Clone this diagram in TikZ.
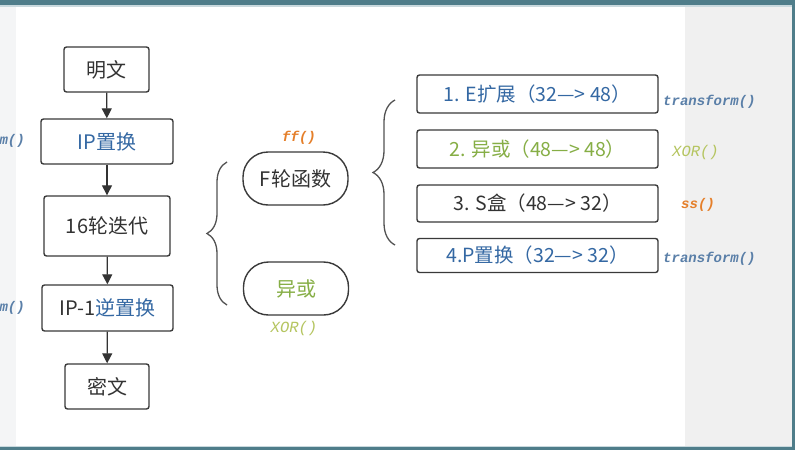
\documentclass[tikz,border=0pt]{standalone}
\usepackage{fontspec}
\setmainfont{Noto Sans CJK SC}
\newfontfamily\monof{Liberation Mono}
\usetikzlibrary{arrows.meta,decorations.pathreplacing}
\definecolor{bandc}{HTML}{4F7D8A}
\definecolor{bandl}{HTML}{C9D9DE}
\definecolor{leftg}{HTML}{F4F5F6}
\definecolor{rightg}{HTML}{F0F0F0}
\definecolor{boxc}{HTML}{3A3A3A}
\definecolor{darkc}{HTML}{333333}
\definecolor{bluec}{HTML}{3468A3}
\definecolor{lblue}{HTML}{5A7FA8}
\definecolor{greenc}{HTML}{86AE45}
\definecolor{xorc}{HTML}{B5C560}
\definecolor{orangec}{HTML}{E57F2A}
\begin{document}
\begin{tikzpicture}[x=1pt,y=-1pt,
  box/.style={draw=boxc,line width=1.4pt,rounded corners=2.5pt,inner sep=0pt,
    text=darkc,font=\fontsize{20}{22}\selectfont},
  pill/.style={draw=boxc,line width=1.4pt,rounded corners=25pt,inner sep=0pt,
    minimum width=105pt,minimum height=53pt,text=darkc,font=\fontsize{20}{22}\selectfont},
  stepbox/.style={draw=boxc,line width=1.4pt,rounded corners=2.5pt,inner sep=0pt,
    minimum width=241pt,text=darkc,font=\fontsize{19.5}{22}\selectfont},
  tlabel/.style={inner sep=0pt,text=lblue,font=\monof\bfseries\itshape\fontsize{14}{14}\selectfont},
  xlabel/.style={inner sep=0pt,text=xorc,font=\monof\itshape\fontsize{15.5}{16}\selectfont},
  olabel/.style={inner sep=0pt,text=orangec,font=\monof\bfseries\itshape\fontsize{14}{14}\selectfont},
  arr/.style={draw=darkc,line width=1.3pt,-{Triangle[length=10pt,width=10pt]}},
  bracel/.style={draw=darkc!85,line width=1.3pt,decorate}
]
\useasboundingbox (0,0) rectangle (795,450);
\clip (0,0) rectangle (795,450);
\fill[white] (0,0) rectangle (795,450);
\fill[leftg] (0,5) rectangle (16,447);
\fill[rightg] (685,5) rectangle (792,447);
\fill[bandl] (0,5) rectangle (795,6.5);
\fill[bandl] (0,445.5) rectangle (795,447);
\fill[bandc] (0,0) rectangle (795,5);
\fill[bandc] (792,0) rectangle (795,450);
\fill[bandc] (0,447) rectangle (795,450);

% left column
\node[box,minimum width=85pt,minimum height=45pt] (mw) at (106.5,69.5) {明文};
\node[box,minimum width=132pt,minimum height=45pt,text=bluec] (ip) at (107,141.5) {IP置换};
\node[box,minimum width=126pt,minimum height=60pt] (it) at (107,226) {16轮迭代};
\node[box,minimum width=131pt,minimum height=46pt] (ipi) at (107.5,308) {IP-1\textcolor{bluec}{逆置换}};
\node[box,minimum width=84pt,minimum height=45pt] (mi) at (107,386.5) {密文};
\draw[arr] (mw) -- (ip);
\draw[arr] (ip) -- (it);
\draw[arr] (it) -- (ipi);
\draw[arr] (ipi) -- (mi);
\node[tlabel,anchor=east] (l1) at (25,141) {transform()};
\node[tlabel,anchor=east] (l2) at (25,308) {transform()};

% middle
\coordinate (b1s) at (227,305);
\coordinate (b1e) at (227,162);
\draw[bracel,decoration={brace,amplitude=20pt}] (b1s) -- (b1e);
\node[pill] (f) at (295.5,178.5) {F轮函数};
\node[pill,text=greenc] (x) at (296,288.5) {异或};
\node[olabel] (ff) at (299,138) {ff()};
\node[xlabel] (xl) at (294,328) {XOR()};

% right
\coordinate (b2s) at (395,245);
\coordinate (b2e) at (395,100);
\draw[bracel,decoration={brace,amplitude=22pt}] (b2s) -- (b2e);
\node[stepbox,minimum height=38pt,text=bluec] (s1) at (537.5,94) {1. E扩展（32—> 48）};
\node[stepbox,minimum height=38pt,text=greenc] (s2) at (537.5,149) {2. 异或（48—> 48）};
\node[stepbox,minimum height=37pt] (s3) at (537.5,203.5) {3. S盒（48—> 32）};
\node[stepbox,minimum height=34pt,text=bluec] (s4) at (537.5,255.5) {4.P置换（32—> 32）};
\node[tlabel,anchor=west] (t1) at (663,102) {transform()};
\node[xlabel,anchor=west] (t2) at (672,152) {XOR()};
\node[olabel,anchor=west] (t3) at (681,205) {ss()};
\node[tlabel,anchor=west] (t4) at (663,259) {transform()};
\end{tikzpicture}
\end{document}
